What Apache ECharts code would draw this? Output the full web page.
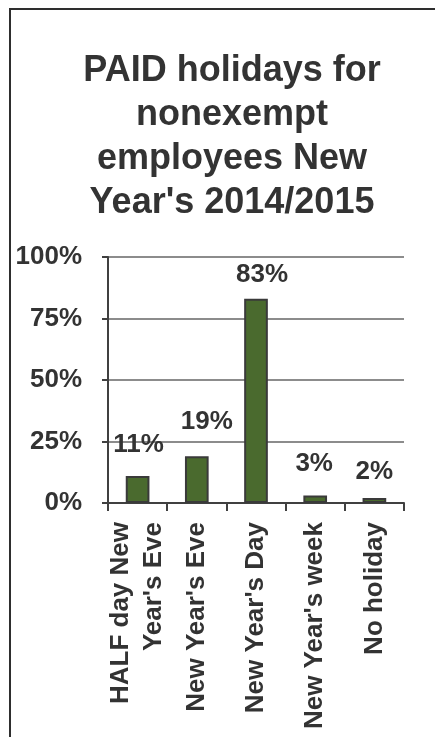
<!DOCTYPE html>
<html>
<head>
<meta charset="utf-8">
<title>PAID holidays for nonexempt employees</title>
<script src="https://cdn.jsdelivr.net/npm/echarts@6/dist/echarts.min.js"></script>
<style>
  html, body { margin: 0; padding: 0; background: #fff; }
  #chart { width: 435px; height: 737px; }
</style>
</head>
<body>
<div id="chart"></div>
<script>
// Survey results: share of employers giving each paid holiday
const titleText = "PAID holidays for\nnonexempt\nemployees New\nYear's 2014/2015";
const categories = ["HALF day New\nYear's Eve", "New Year's Eve", "New Year's Day", "New Year's week", "No holiday"];
const percentValues = [11, 19, 83, 3, 2];
const yTicks = [0, 25, 50, 75, 100];

// Per-bar nudges for the value labels
const labelOffsets = [[1, -13], [10, -16], [6, -6], [-1, -14], [0, -8]];

const textColor = '#333333';
const font = 'Liberation Sans, Arial, sans-serif';

const chart = echarts.init(document.getElementById('chart'), null, { renderer: 'canvas' });

chart.setOption({
  animation: false,
  backgroundColor: '#ffffff',
  graphic: [{
    type: 'rect',
    shape: { x: 10, y: 9, width: 600, height: 900 },
    style: { fill: 'none', stroke: '#2e2e2e', lineWidth: 2 },
    silent: true
  }],
  title: {
    text: titleText,
    left: 227,
    textAlign: 'center',
    top: 44,
    textStyle: {
      fontFamily: font, fontSize: 36, fontWeight: 'bold',
      color: textColor, lineHeight: 44
    }
  },
  grid: { left: 108, right: 31, top: 257, bottom: 234, containLabel: false },
  xAxis: {
    type: 'category',
    data: categories,
    axisLine: { lineStyle: { color: '#404040', width: 2 } },
    axisTick: { show: true, length: 8, alignWithLabel: false, lineStyle: { color: '#404040', width: 2 } },
    axisLabel: {
      rotate: 90, margin: 19, interval: 0,
      fontFamily: font, fontSize: 26, fontWeight: 'bold',
      color: textColor, lineHeight: 33
    }
  },
  yAxis: {
    type: 'value',
    min: yTicks[0],
    max: yTicks[yTicks.length - 1],
    interval: 25,
    axisLine: { show: true, lineStyle: { color: '#404040', width: 2 } },
    axisTick: { show: true, length: 6, lineStyle: { color: '#404040', width: 2 } },
    splitLine: { lineStyle: { color: '#8c8c8c', width: 2 } },
    axisLabel: {
      margin: 26,
      formatter: '{value}%',
      fontFamily: font, fontSize: 26, fontWeight: 'bold', color: textColor
    }
  },
  series: [{
    type: 'bar',
    barWidth: '40%',
    data: percentValues.map((v, i) => ({
      value: v,
      label: { offset: labelOffsets[i] }
    })),
    itemStyle: { color: '#4a6a2e', borderColor: '#3a3a3a', borderWidth: 2 },
    label: {
      show: true,
      position: 'top',
      distance: 5,
      formatter: '{c}%',
      fontFamily: font, fontSize: 26, fontWeight: 'bold', color: textColor
    }
  }]
});
</script>
</body>
</html>
